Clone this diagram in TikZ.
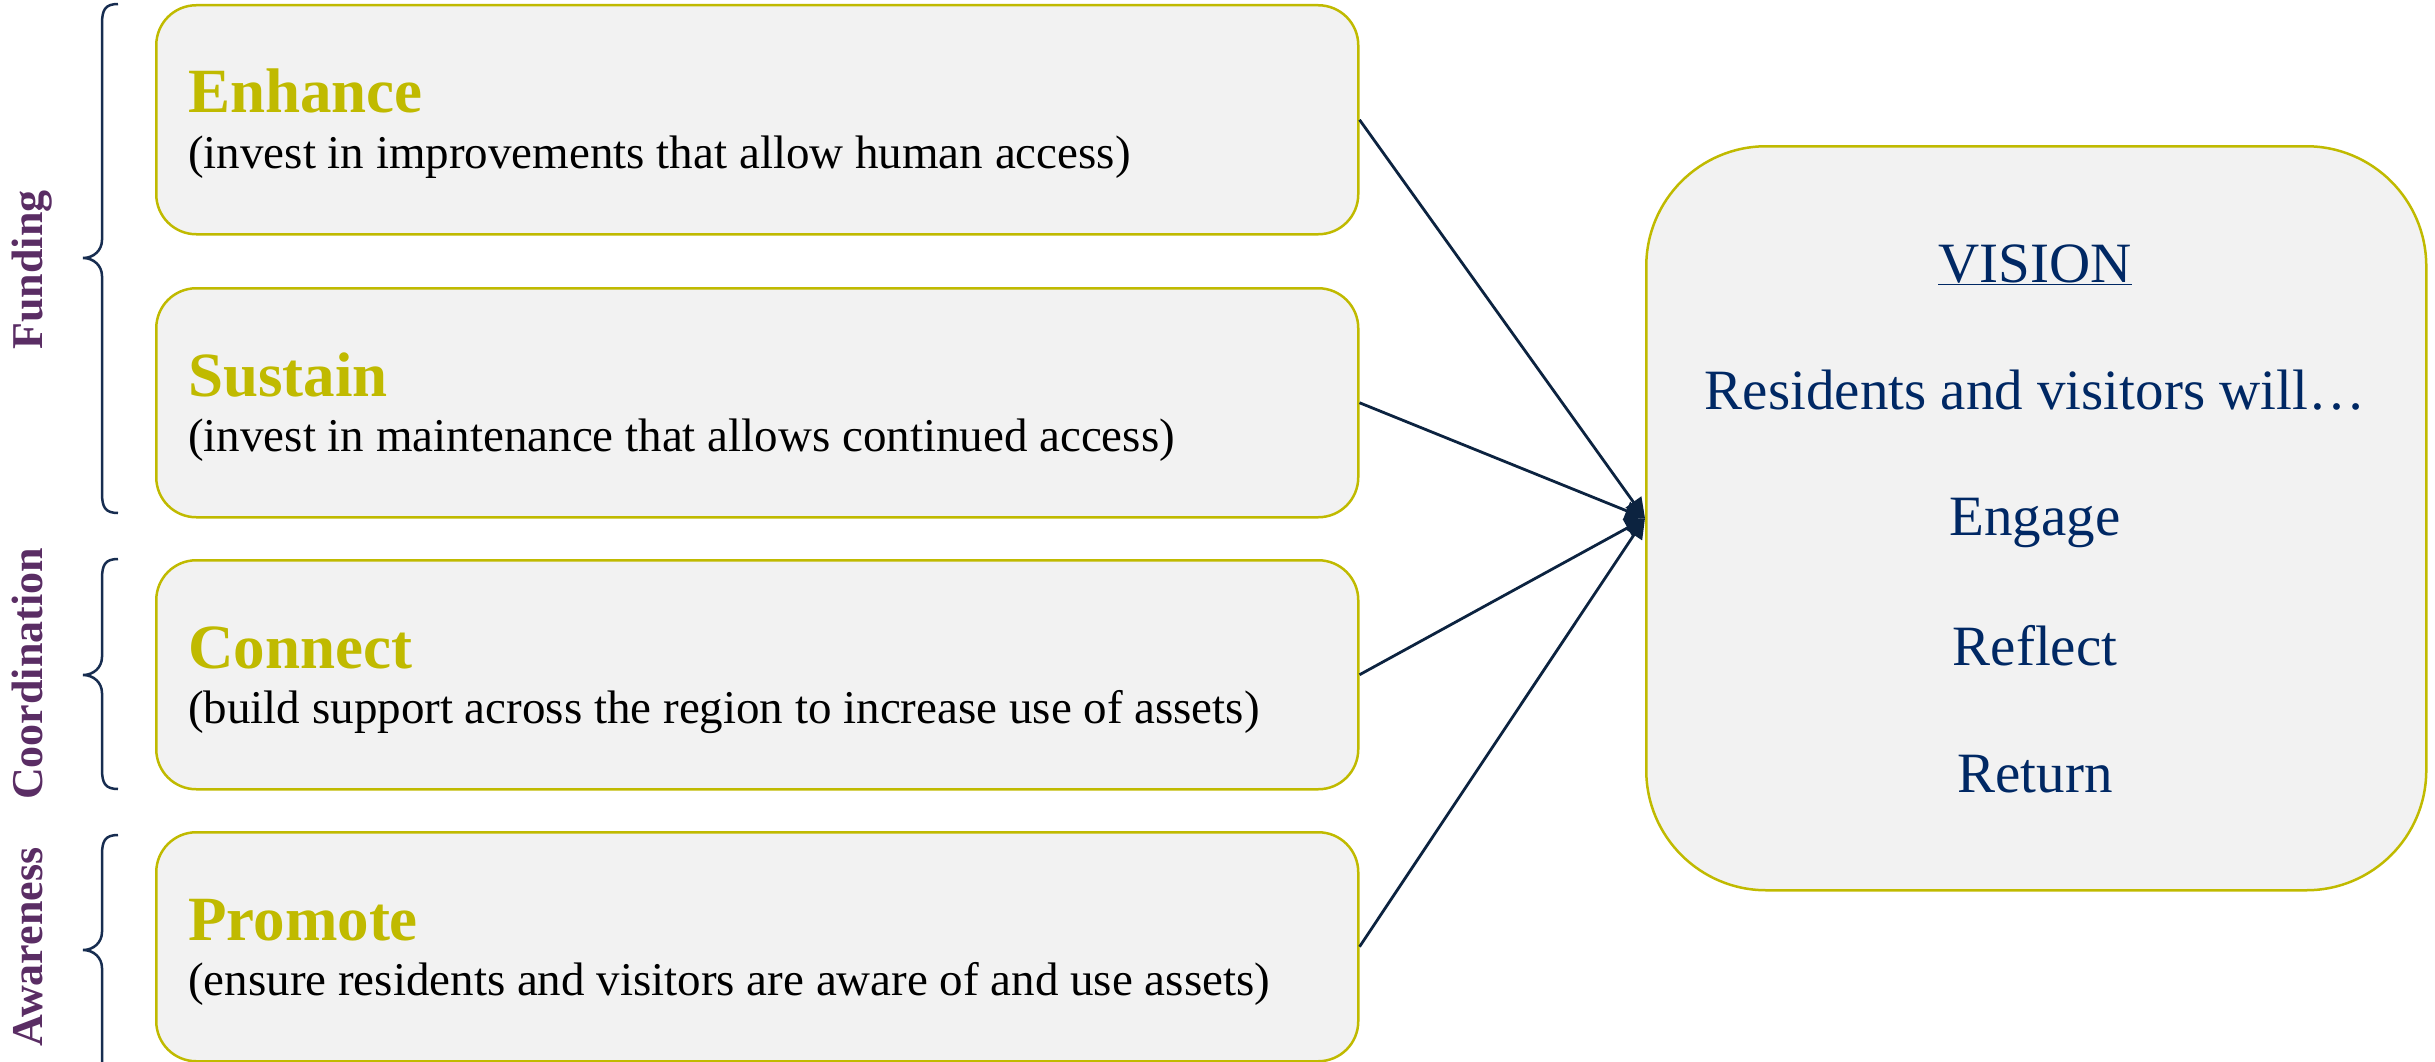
\documentclass[tikz,border=0pt]{standalone}
\usepackage{fontspec}
\setmainfont{Liberation Serif}
\usetikzlibrary{calc,arrows.meta}

\definecolor{boxolive}{RGB}{192,186,0}
\definecolor{boxfill}{RGB}{242,242,242}
\definecolor{visnavy}{RGB}{0,40,100}
\definecolor{linknavy}{RGB}{12,35,64}
\definecolor{bracenavy}{RGB}{23,45,80}
\definecolor{tagpurple}{RGB}{90,45,100}

% curly brace opening to the right: #1 top, #2 tip, #3 bottom (y values)
\newcommand\sidebrace[3]{%
  \draw[brace] (118,#1) .. controls (105,#1) and (102,#1+6) .. (102,#1+20)
    -- (102,#2-18) .. controls (102,#2-8) and (94,#2) .. (83,#2)
    .. controls (94,#2) and (102,#2+8) .. (102,#2+18)
    -- (102,#3-20) .. controls (102,#3-6) and (105,#3) .. (118,#3);}

\begin{document}
\begin{tikzpicture}[x=1pt,y=-1pt,
  card/.style={draw=boxolive, fill=boxfill, line width=2.5pt,
    rounded corners=40pt, minimum width=1202pt, minimum height=229pt,
    inner sep=0pt, anchor=north west},
  visbox/.style={draw=boxolive, fill=boxfill, line width=2.5pt,
    rounded corners=120pt, minimum width=780pt, minimum height=744pt,
    inner sep=0pt, anchor=north west},
  head/.style={anchor=base west, inner sep=0pt, text=boxolive,
    font=\fontsize{63}{72}\selectfont\bfseries},
  sub/.style={anchor=base west, inner sep=0pt, text=black,
    font=\fontsize{47}{56}\selectfont},
  vistext/.style={anchor=base, inner sep=0pt, text=visnavy,
    font=\fontsize{57}{66}\selectfont},
  tag/.style={rotate=90, anchor=base, inner sep=0pt, text=tagpurple,
    font=\fontsize{44}{52}\selectfont\bfseries},
  brace/.style={draw=bracenavy, line width=2.5pt},
  conn/.style={draw=linknavy, line width=2.8pt,
    -{Triangle[length=20pt,width=19pt]}}
]
\useasboundingbox (0,0) rectangle (2435,1062);

% action cards
\node[card] (b1) at (155,4) {};
\node[card] (b2) at (155,287) {};
\node[card] (b3) at (155,559) {};
\node[card] (b4) at (155,831) {};

\node[head] (h1) at ($(b1.north west)+(33,109)$) {Enhance};
\node[sub]  (s1) at ($(b1.north west)+(33,164)$) {(invest in improvements that allow human access)};
\node[head] (h2) at ($(b2.north west)+(33,109)$) {Sustain};
\node[sub]  (s2) at ($(b2.north west)+(33,164)$) {(invest in maintenance that allows continued access)};
\node[head] (h3) at ($(b3.north west)+(33,109)$) {Connect};
\node[sub]  (s3) at ($(b3.north west)+(33,164)$) {(build support across the region to increase use of assets)};
\node[head] (h4) at ($(b4.north west)+(33,109)$) {Promote};
\node[sub]  (s4) at ($(b4.north west)+(33,164)$) {(ensure residents and visitors are aware of and use assets)};

% vision card
\node[visbox] (vis) at (1645,145) {};
\node[vistext] (v0) at (2035,282) {\underline{VISION}};
\node[vistext] (v1) at (2035,409) {Residents and visitors will…};
\node[vistext] (v2) at (2035,535) {Engage};
\node[vistext] (v3) at (2035,665) {Reflect};
\node[vistext] (v4) at (2035,792) {Return};

% connectors
\draw[conn] (b1.east) -- (vis.west);
\draw[conn] (b2.east) -- (vis.west);
\draw[conn] (b3.east) -- (vis.west);
\draw[conn] (b4.east) -- (vis.west);

% grouping braces and their labels
\sidebrace{4}{258}{513}
\sidebrace{559}{675}{789}
\sidebrace{835}{950}{1078}
\node[tag] (g1) at (42,270) {Funding};
\node[tag] (g2) at (42,674) {Coordination};
\node[tag] (g3) at (42,947) {Awareness};
\end{tikzpicture}
\end{document}
